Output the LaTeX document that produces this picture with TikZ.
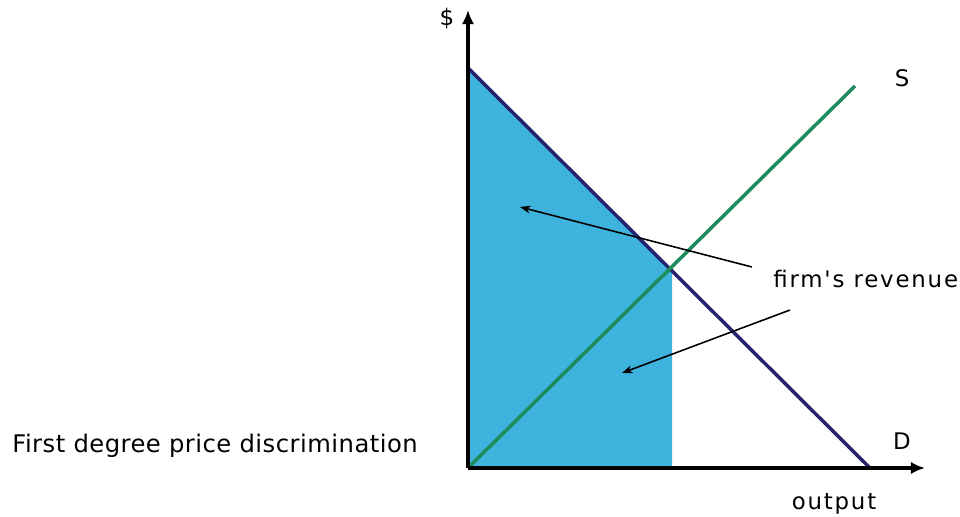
\documentclass[tikz,border=0pt]{standalone}
\usepackage{fontspec}
\setmainfont{DejaVu Sans}
\newfontfamily\lblfont[LetterSpace=8]{DejaVu Sans}
\newfontfamily\titlefont[LetterSpace=2]{DejaVu Sans}
\usepackage{xcolor}
\usetikzlibrary{arrows.meta}
\definecolor{PDFill}{HTML}{3DB3DE}
\definecolor{PDDemand}{HTML}{24246E}
\definecolor{PDSupply}{HTML}{1E8B5C}
\tikzset{
  axisline/.style={line width=2pt,-{Latex[length=8pt,width=7pt]}},
  curveline/.style={line width=2pt},
  pointer/.style={line width=.9pt,-{Stealth[length=6pt,width=4.5pt]}},
  lbl/.style={inner sep=0pt,font=\lblfont\fontsize{13}{15}\selectfont}
}

\begin{document}
\begin{tikzpicture}[x=1cm,y=1cm]
\path[use as bounding box] (0,0) rectangle (19.20,10.34);
% points of the graph
\coordinate (origin) at (9.36,0.98);
\coordinate (ytop) at (9.36,10.14);
\coordinate (xend) at (18.50,0.98);
\coordinate (dtop) at (9.36,8.98);
\coordinate (dbot) at (17.40,0.98);
\coordinate (stop) at (17.10,8.62);
\coordinate (qstar) at (13.44,0.98);
\coordinate (pstar) at (13.44,4.92);
% shaded revenue area
\fill[PDFill] (origin) -- (dtop) -- (pstar) -- (qstar) -- cycle;
\draw[curveline,PDDemand] (dtop) -- (dbot);
\draw[curveline,PDSupply] (origin) -- (stop);
\draw[axisline] (origin) -- (ytop);
\draw[axisline] (origin) -- (xend);
% labels
\node[lbl,anchor=base] (dollar) at (8.94,9.82) {\$};
\node[lbl,anchor=base] (slabel) at (18.04,8.60) {S};
\node[lbl,anchor=base] (dlabel) at (18.04,1.34) {D};
\node[lbl,anchor=base] (xlabel) at (16.68,0.14) {output};
\node[lbl,anchor=base west] (rev) at (15.46,4.58) {firm's revenue};
\node[anchor=base west,inner sep=0pt,font=\titlefont\fontsize{13.8}{16}\selectfont] (title) at (0.24,1.28) {First degree price discrimination};
% pointers to the revenue
\coordinate (tailA) at (15.04,5.00);
\coordinate (headA) at (10.40,6.20);
\coordinate (tailB) at (15.80,4.14);
\coordinate (headB) at (12.44,2.88);
\draw[pointer] (tailA) -- (headA);
\draw[pointer] (tailB) -- (headB);
\end{tikzpicture}
\end{document}
